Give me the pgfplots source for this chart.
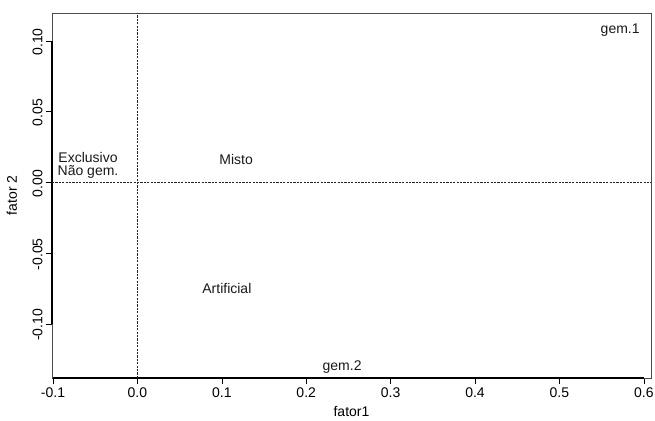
\documentclass[border=0pt]{standalone}
\usepackage{pgfplots}
\pgfplotsset{compat=1.18}
\usepackage{fontspec}
\setmainfont{Liberation Sans}
\begin{document}
\begin{tikzpicture}
\begin{axis}[
  at={(0,0)}, anchor=south west,
  scale only axis, width=599pt, height=365pt,
  xmin=-0.1012, xmax=0.6085, ymin=-0.1382, ymax=0.1198,
  clip=false,
  axis line style={draw=black!70, line width=0.6pt},
  xtick={-0.1,0,0.1,0.2,0.3,0.4,0.5,0.6},
  xticklabels={-0.1,0.0,0.1,0.2,0.3,0.4,0.5,0.6},
  ytick={-0.10,-0.05,0,0.05,0.10},
  yticklabels={-0.10,-0.05,0.00,0.05,0.10},
  tick align=outside, major tick length=6pt,
  xtick pos=bottom, ytick pos=left,
  tick style={black, line width=0.6pt},
  ticklabel style={font=\fontsize{14}{16}\selectfont},
  yticklabel style={rotate=90, anchor=south, xshift=-1pt},
  xlabel={fator1}, ylabel={fator 2},
  label style={font=\fontsize{14}{16}\selectfont},
  xlabel style={at={(axis description cs:0.5,0)}, anchor=center, yshift=-34pt},
  ylabel style={at={(axis description cs:-0.0668,0.5)}, anchor=center},
]
\addplot[black, line width=1.4pt] coordinates {(-0.1012,-0.10) (-0.1012,0.10)};
\addplot[black, line width=1.4pt] coordinates {(-0.1,-0.1382) (0.6,-0.1382)};
\addplot[black!85, line width=0.7pt, dash pattern=on 2.2pt off 1.2pt] coordinates {(0,-0.1382) (0,0.1198)};
\addplot[black!85, line width=0.7pt, dash pattern=on 2.2pt off 1.2pt] coordinates {(-0.1012,0) (0.6085,0)};
\addplot[only marks, mark=none, nodes near coords, point meta=explicit symbolic,
  nodes near coords style={anchor=center, font=\fontsize{14}{16}\selectfont, text=black!90}]
  table[col sep=comma, meta=label] {
x,y,label
0.572,0.1078,gem.1
0.2425,-0.1304,gem.2
-0.0585,0.0180,Exclusivo
-0.0585,0.0074,Não gem.
0.117,0.0159,Misto
0.106,-0.0746,Artificial
};
\end{axis}
\pgfresetboundingbox
\path[use as bounding box] (-52pt,-42pt) rectangle (603pt,378pt);
\end{tikzpicture}
\end{document}
